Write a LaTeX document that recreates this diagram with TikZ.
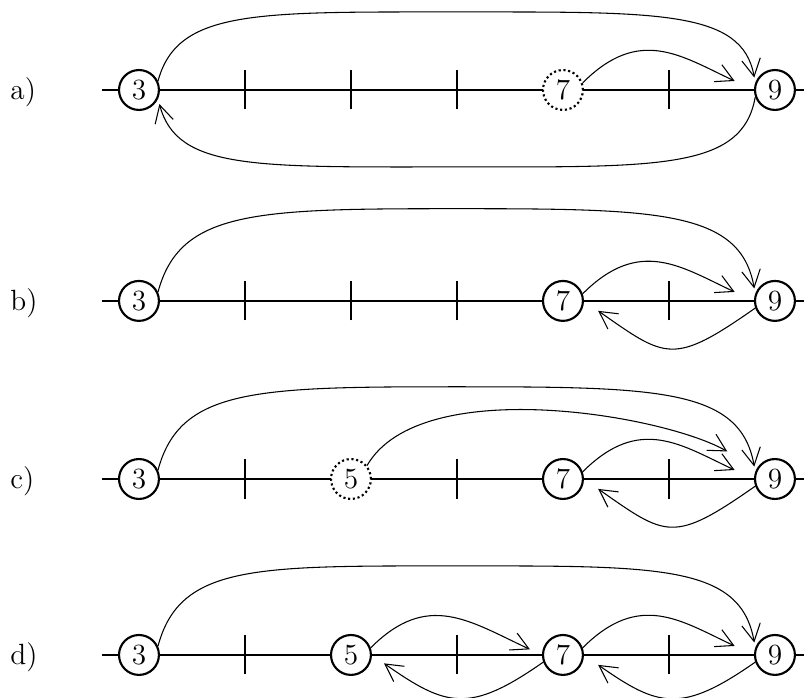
\documentclass[tikz,border=0pt]{standalone}
\usetikzlibrary{arrows.meta}
\begin{document}
\begin{tikzpicture}
        [%%%%%%%%%%%%%%%%%%%%%%%%%%%%%%
        x=1.4cm,y=1.4cm,
        every node/.style={font=\fontsize{11}{13}\selectfont},
        spot/.style={circle,draw=black,thick,fill=white,minimum size=15pt,inner sep=0pt},
        ghost/.style={spot,densely dotted},
        notch/.style={thick},
        hop/.style={-{Straight Barb[length=6.5pt,width=7pt]}},
        ]%%%%%%%%%%%%%%%%%%%%%%%%%%%%%%

        \useasboundingbox (-1.311,-5.736) rectangle (6.274,0.849);

        \foreach \y/\r in {0/a,-1.99/b,-3.67/c,-5.33/d}{
          \draw[thick] (-0.35,\y) -- (6.3,\y);
          \foreach \x in {1,2,3,5}
          \draw[notch] (\x,\y-0.184) -- (\x,\y+0.184);
          \node[anchor=base west,inner sep=0pt] (lab\r) at (-1.217,\y-0.09) {\r)};
        }

        % a)
        \node[spot] (a3) at (0,0) {3};
        \node[ghost] (a7) at (4,0) {7};
        \node[spot] (a9) at (6,0) {9};
        \draw[hop,shorten >=2pt] (a3.25) .. controls +(75:0.7) and +(-1.9,0) .. (3,0.736)
              .. controls +(1.9,0) and +(100:0.7) .. (a9.160);
        \draw[hop,shorten >=2pt] (a9.200) .. controls +(-100:0.7) and +(1.9,0) .. (3,-0.726)
              .. controls +(-1.9,0) and +(-75:0.7) .. (a3.-25);
        \draw[hop,shorten >=8pt] (a7.20) to[out=45,in=155,looseness=1.2] (a9.west);

        % b)
        \node[spot] (b3) at (0,-1.99) {3};
        \node[spot] (b7) at (4,-1.99) {7};
        \node[spot] (b9) at (6,-1.99) {9};
        \draw[hop,shorten >=2pt] (b3.25) .. controls +(75:0.8) and +(-1.9,0) .. (3,-1.12)
              .. controls +(1.9,0) and +(100:0.8) .. (b9.160);
        \draw[hop,shorten >=8pt] (b7.20) to[out=45,in=155,looseness=1.2] (b9.west);
        \draw[hop,shorten >=6.5pt] (b9.200) to[out=215,in=-35,looseness=1.5] (b7.east);

        % c)
        \node[spot] (c3) at (0,-3.67) {3};
        \node[ghost] (c5) at (2,-3.67) {5};
        \node[spot] (c7) at (4,-3.67) {7};
        \node[spot] (c9) at (6,-3.67) {9};
        \draw[hop,shorten >=2pt] (c3.25) .. controls +(75:0.8) and +(-1.9,0) .. (3,-2.80)
              .. controls +(1.9,0) and +(100:0.8) .. (c9.160);
        \draw[hop,shorten >=12.8pt] (c5.40) to[out=60,in=150,looseness=0.7] (c9.150);
        \draw[hop,shorten >=8pt] (c7.20) to[out=45,in=155,looseness=1.2] (c9.west);
        \draw[hop,shorten >=6.5pt] (c9.200) to[out=215,in=-35,looseness=1.5] (c7.east);

        % d)
        \node[spot] (d3) at (0,-5.33) {3};
        \node[spot] (d5) at (2,-5.33) {5};
        \node[spot] (d7) at (4,-5.33) {7};
        \node[spot] (d9) at (6,-5.33) {9};
        \draw[hop,shorten >=2pt] (d3.25) .. controls +(75:0.8) and +(-1.9,0) .. (3,-4.49)
              .. controls +(1.9,0) and +(100:0.8) .. (d9.160);
        \draw[hop,shorten >=5pt] (d5.20) to[out=45,in=155,looseness=1.2] (d7.west);
        \draw[hop,shorten >=5.5pt] (d7.200) to[out=215,in=-35,looseness=1.35] (d5.east);
        \draw[hop,shorten >=8pt] (d7.20) to[out=45,in=155,looseness=1.2] (d9.west);
        \draw[hop,shorten >=6.5pt] (d9.200) to[out=215,in=-35,looseness=1.35] (d7.east);

      \end{tikzpicture}
\end{document}
